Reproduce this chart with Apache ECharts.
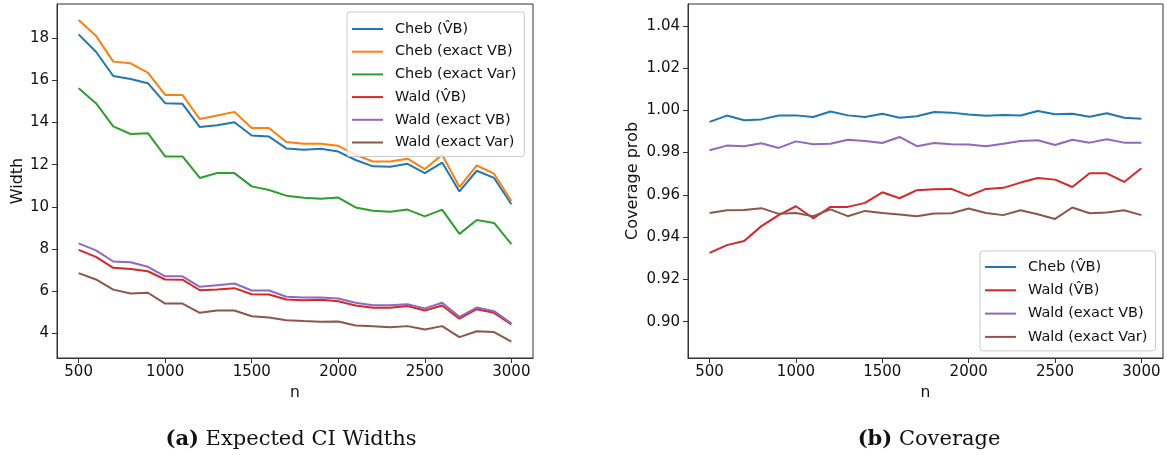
<!DOCTYPE html>
<html>
<head>
<meta charset="utf-8">
<script src="https://cdn.jsdelivr.net/npm/echarts@6/dist/echarts.min.js"></script>
<style>
html,body{margin:0;padding:0;background:#fff;}
#chart{width:1167px;height:455px;}
</style>
</head>
<body>
<div id="chart"></div>
<script>
// ---- data ----
const nValues = [500,600,700,800,900,1000,1100,1200,1300,1400,1500,1600,1700,1800,1900,2000,2100,2200,2300,2400,2500,2600,2700,2800,2900,3000];
const xTicks = [500,1000,1500,2000,2500,3000];
const widthTicks = [4,6,8,10,12,14,16,18];
const coverageTicks = [0.90,0.92,0.94,0.96,0.98,1.00,1.02,1.04];

const chebVBWidth      = [18.17,17.35,16.20,16.06,15.86,14.91,14.88,13.78,13.87,14.01,13.38,13.33,12.77,12.70,12.75,12.62,12.22,11.92,11.90,12.04,11.60,12.10,10.73,11.71,11.37,10.12];
const chebExactVBWidth = [18.85,18.11,16.88,16.80,16.36,15.30,15.30,14.16,14.33,14.50,13.74,13.74,13.07,12.99,12.99,12.89,12.47,12.15,12.15,12.28,11.79,12.47,10.94,11.96,11.57,10.28];
const chebExactVarWidth= [15.62,14.91,13.81,13.45,13.49,12.39,12.39,11.37,11.60,11.60,10.97,10.80,10.53,10.43,10.38,10.44,9.97,9.82,9.77,9.87,9.55,9.87,8.72,9.38,9.24,8.24];
const waldVBWidth      = [7.96,7.63,7.11,7.06,6.95,6.56,6.55,6.05,6.08,6.15,5.86,5.85,5.61,5.58,5.60,5.53,5.33,5.22,5.22,5.30,5.09,5.33,4.70,5.15,4.98,4.43];
const waldExactVBWidth = [8.27,7.94,7.41,7.38,7.16,6.71,6.71,6.21,6.29,6.37,6.04,6.04,5.74,5.71,5.71,5.66,5.46,5.34,5.34,5.39,5.19,5.46,4.79,5.23,5.06,4.48];
const waldExactVarWidth= [6.86,6.56,6.08,5.90,5.93,5.42,5.42,4.98,5.09,5.09,4.82,4.76,4.63,4.59,4.56,4.57,4.38,4.34,4.30,4.35,4.19,4.35,3.83,4.11,4.07,3.61];

const chebVBCov        = [0.9945,0.9975,0.9953,0.9957,0.9975,0.9976,0.9968,0.9994,0.9976,0.9968,0.9984,0.9965,0.9972,0.9992,0.9989,0.9980,0.9974,0.9978,0.9975,0.9997,0.9981,0.9984,0.9970,0.9986,0.9965,0.9960];
const waldVBCov        = [0.9325,0.9362,0.9382,0.9452,0.9504,0.9546,0.9489,0.9543,0.9543,0.9562,0.9612,0.9584,0.9622,0.9626,0.9628,0.9595,0.9628,0.9633,0.9658,0.9680,0.9672,0.9637,0.9702,0.9702,0.9661,0.9726];
const waldExactVBCov   = [0.9811,0.9833,0.9830,0.9844,0.9822,0.9853,0.9839,0.9842,0.9861,0.9855,0.9845,0.9874,0.9830,0.9845,0.9839,0.9838,0.9830,0.9842,0.9855,0.9858,0.9836,0.9861,0.9847,0.9863,0.9847,0.9847];
const waldExactVarCov  = [0.9514,0.9527,0.9528,0.9537,0.9510,0.9514,0.9499,0.9531,0.9499,0.9524,0.9514,0.9507,0.9499,0.9512,0.9513,0.9535,0.9514,0.9504,0.9527,0.9508,0.9486,0.9540,0.9513,0.9516,0.9527,0.9504];

const names = {
  chebVB: 'Cheb (V\u0302B)',
  chebExactVB: 'Cheb (exact VB)',
  chebExactVar: 'Cheb (exact Var)',
  waldVB: 'Wald (V\u0302B)',
  waldExactVB: 'Wald (exact VB)',
  waldExactVar: 'Wald (exact Var)'
};
const colors = {
  chebVB: '#1f77b4', chebExactVB: '#ff7f0e', chebExactVar: '#2ca02c',
  waldVB: '#d62728', waldExactVB: '#9467bd', waldExactVar: '#8c564b'
};

// ---- chart ----
const FONT = '"DejaVu Sans", sans-serif';
const SERIF = '"DejaVu Serif", serif';
const pair = arr => nValues.map((n, i) => [n, arr[i]]);
function line(key, arr, idx) {
  return {
    type: 'line', name: names[key], data: pair(arr),
    xAxisIndex: idx, yAxisIndex: idx,
    showSymbol: false, symbol: 'none', animation: false,
    lineStyle: { color: colors[key], width: 2 },
    itemStyle: { color: colors[key] },
    emphasis: { disabled: true }
  };
}
function xAx(idx) {
  return {
    type: 'value', gridIndex: idx, min: 375, max: 3125,
    name: 'n', nameLocation: 'middle', nameGap: 27,
    nameTextStyle: { fontFamily: FONT, fontSize: 15.5, color: '#111' },
    axisLine: { show: true, lineStyle: { color: '#333', width: 1 } },
    axisTick: { show: true, inside: false, length: 5, customValues: xTicks, lineStyle: { color: '#333' } },
    axisLabel: { customValues: xTicks, margin: 7, fontFamily: FONT, fontSize: 15, color: '#111', formatter: v => String(v) },
    splitLine: { show: false }
  };
}
function yAx(idx, min, max, ticks, name, gap, fmt) {
  return {
    type: 'value', gridIndex: idx, min: min, max: max,
    name: name, nameLocation: 'middle', nameGap: gap, nameRotate: 90,
    nameTextStyle: { fontFamily: FONT, fontSize: 16, color: '#111' },
    axisLine: { show: true, lineStyle: { color: '#333', width: 1 } },
    axisTick: { show: true, inside: false, length: 5, customValues: ticks, lineStyle: { color: '#333' } },
    axisLabel: { customValues: ticks, margin: 8, fontFamily: FONT, fontSize: 15, color: '#111', formatter: fmt },
    splitLine: { show: false }
  };
}
const legendBase = {
  orient: 'vertical', icon: 'rect', itemWidth: 31, itemHeight: 2,
  backgroundColor: 'rgba(255,255,255,0.8)', borderColor: '#cccccc', borderWidth: 1, borderRadius: 3,
  textStyle: { fontFamily: FONT, fontSize: 14.5, color: '#111', padding: [0, 0, 0, 7], lineHeight: 16 },
  selectedMode: false
};

const option = {
  animation: false,
  backgroundColor: '#fff',
  grid: [
    { left: 57, top: 4, width: 476, height: 354, show: true, borderColor: '#333', borderWidth: 1, backgroundColor: 'transparent' },
    { left: 688, top: 4, width: 475, height: 354, show: true, borderColor: '#333', borderWidth: 1, backgroundColor: 'transparent' }
  ],
  xAxis: [xAx(0), xAx(1)],
  yAxis: [
    yAx(0, 2.84, 19.61, widthTicks, 'Width', 30, v => String(v)),
    yAx(1, 0.8828, 1.0503, coverageTicks, 'Coverage prob', 47, v => v.toFixed(2))
  ],
  legend: [
    Object.assign({}, legendBase, {
      left: 347, top: 12, itemGap: 6.7, padding: [9, 8, 6, 5],
      data: [names.chebVB, names.chebExactVB, names.chebExactVar, names.waldVB, names.waldExactVB, names.waldExactVar]
    }),
    Object.assign({}, legendBase, {
      left: 980, top: 251, itemGap: 7.3, padding: [8, 8, 6, 5],
      data: [names.chebVB, names.waldVB, names.waldExactVB, names.waldExactVar]
    })
  ],
  title: [
    {
      text: '{b|(a)} Expected CI Widths', left: 286, top: 424, textAlign: 'center',
      textStyle: { fontFamily: SERIF, fontSize: 21, fontWeight: 'normal', color: '#111',
        rich: { b: { fontFamily: SERIF, fontSize: 21, fontWeight: 'bold', color: '#111' } } }
    },
    {
      text: '{b|(b)} Coverage', left: 924, top: 424, textAlign: 'center',
      textStyle: { fontFamily: SERIF, fontSize: 21, fontWeight: 'normal', color: '#111',
        rich: { b: { fontFamily: SERIF, fontSize: 21, fontWeight: 'bold', color: '#111' } } }
    }
  ],
  series: [
    line('chebVB', chebVBWidth, 0),
    line('chebExactVB', chebExactVBWidth, 0),
    line('chebExactVar', chebExactVarWidth, 0),
    line('waldVB', waldVBWidth, 0),
    line('waldExactVB', waldExactVBWidth, 0),
    line('waldExactVar', waldExactVarWidth, 0),
    line('chebVB', chebVBCov, 1),
    line('waldVB', waldVBCov, 1),
    line('waldExactVB', waldExactVBCov, 1),
    line('waldExactVar', waldExactVarCov, 1)
  ]
};
const chart = echarts.init(document.getElementById('chart'), null, { renderer: 'canvas' });
chart.setOption(option);
</script>
</body>
</html>
